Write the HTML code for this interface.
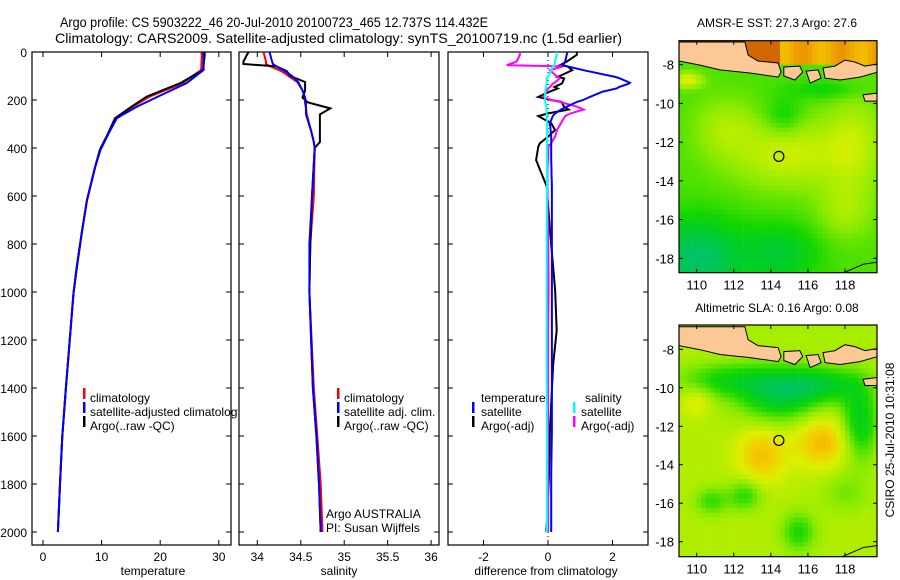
<!DOCTYPE html>
<html><head><meta charset="utf-8">
<style>
html,body{margin:0;padding:0;background:#fff;}
svg{display:block;font-family:"Liberation Sans",sans-serif;}
text{font-size:12px;fill:#000;}
</style></head>
<body>
<svg id="fig" width="900" height="580" viewBox="0 0 900 580" xmlns="http://www.w3.org/2000/svg">
<text x="60" y="27" style="font-size:14px" textLength="428" lengthAdjust="spacingAndGlyphs">Argo profile: CS 5903222_46 20-Jul-2010 20100723_465 12.737S 114.432E</text>
<text x="55" y="43" style="font-size:14px" textLength="567" lengthAdjust="spacingAndGlyphs">Climatology: CARS2009. Satellite-adjusted climatology: synTS_20100719.nc (1.5d earlier)</text>
<text x="777" y="27" text-anchor="middle">AMSR-E SST: 27.3 Argo: 27.6</text>
<text x="777" y="312" text-anchor="middle">Altimetric SLA: 0.16 Argo: 0.08</text>
<text transform="translate(894,440) rotate(-90)" text-anchor="middle">CSIRO 25-Jul-2010 10:31:08</text>
<g id="g"></g>
</svg>
<script>
// ---- data ----
const depthT = [0,12,75,130,186,228,260,276,339,408,478,617,755,894,1005,1400,1600,1800,2000];
const tempArgo = [27.6,27.6,27.3,23.4,17.7,15.1,13.2,12.3,11.1,9.7,8.9,7.5,6.6,5.75,5.2,3.9,3.3,2.9,2.55];
const tempClim = [27.0,27.1,27.0,23.8,18.2,15.3,13.3,12.4,11.2,9.8,8.9,7.5,6.6,5.8,5.2,3.9,3.3,2.9,2.55];
const tempSat = [27.3,27.4,27.4,24.5,19.6,16.0,13.7,12.6,11.2,9.8,8.9,7.5,6.6,5.8,5.2,3.9,3.3,2.9,2.55];
const depthS = [0,12,40,50,60,80,100,125,160,190,210,235,260,330,375,400,600,800,1000,1400,1600,1800,2000];
const salArgo = [33.9,33.88,33.84,33.84,34.22,34.34,34.38,34.55,34.55,34.52,34.58,34.84,34.72,34.72,34.72,34.66,34.63,34.61,34.6,34.64,34.68,34.71,34.73];
const salClim = [34.07,34.08,34.1,34.1,34.15,34.28,34.36,34.46,34.52,34.55,34.56,34.56,34.57,34.62,34.65,34.66,34.65,34.61,34.6,34.65,34.69,34.73,34.75];
const salSat = [34.14,34.15,34.17,34.18,34.22,34.32,34.4,34.47,34.52,34.55,34.55,34.56,34.56,34.62,34.65,34.66,34.63,34.6,34.6,34.64,34.68,34.71,34.73];
const depthD = [0,12,40,55,60,76,104,110,128,132,146,152,165,187,200,208,228,240,256,267,297,325,353,380,394,450,490,506,560,740,990,1160,1300,1575,1760,2000];
const diffTsat = [0.6,0.58,0.53,0.47,0.6,1.1,2.1,2.23,2.54,2.5,2.2,2.13,1.7,1.3,1.09,0.9,0.58,0.4,0.22,0.15,0.06,0.08,0.1,0.1,0.1,0.1,0.11,0.11,0.12,0.12,0.12,0.12,0.12,0.12,0.1,0.1];
const diffTargo = [0.9,0.89,0.58,0.37,0.6,0.75,0.3,0.5,0.45,0.42,0.2,0.3,0.06,-0.3,0.1,0.42,0.5,0.64,0.0,-0.3,0.1,0.22,0.0,-0.25,-0.3,-0.37,-0.25,-0.2,-0.04,0.06,0.22,0.27,0.16,0.06,0.03,-0.05];
const diffSsat = [0.27,0.27,0.22,0.2,0.15,0.1,0.0,-0.04,-0.04,-0.04,-0.06,-0.07,-0.08,-0.09,-0.09,-0.09,-0.05,-0.05,-0.04,-0.04,-0.03,-0.03,-0.03,-0.03,-0.03,-0.03,-0.03,-0.03,-0.03,-0.04,-0.04,-0.04,-0.04,-0.03,-0.03,-0.03];
const diffSargo = [-0.87,-0.87,-0.97,-1.28,0.47,0.06,0.3,0.37,0.2,0.15,0.06,0.0,-0.05,-0.14,0.1,0.37,0.9,1.1,0.7,0.53,0.4,0.28,0.22,0.1,0.01,0.0,-0.02,-0.02,-0.02,0.0,0.02,0.0,0.0,0.0,0.0,0.0];
const depthTicks = [0,200,400,600,800,1000,1200,1400,1600,1800,2000];
const tempTicks = [0,10,20,30];
const salTicks = ['34','34.5','35','35.5','36'];
const diffTicks = [-2,0,2];
const lonTicks = [110,112,114,116,118];
const latTicks = [-8,-10,-12,-14,-16,-18];
const floatLon = 114.432, floatLat = -12.737;
// map field blobs: [lon, lat, amplitude, sigmaLon, sigmaLat]
const sstBlobs = [[115,-12.6,0.2,3.2,1.8],[111.5,-11.2,0.12,1.6,1.5],[118.5,-12,0.15,1.5,2.5],[110,-18,-0.3,2.5,2],[114.5,-17.8,-0.18,2,1.5],[114.7,-10.7,-0.12,1,1],[109.5,-8.8,0.25,0.8,0.4],[118,-15.5,0.12,1.5,1.5],[117,-9.3,-0.1,2,0.5]];
const slaBlobs = [[114.5,-10.3,-0.35,2.2,1.4],[111.5,-9.6,-0.22,2.5,0.9],[117,-9.8,-0.25,2,0.9],[118.8,-11.8,-0.3,1.0,2],[113.5,-13.5,0.22,1.3,1.4],[116.8,-12.8,0.24,1.5,1.3],[110,-10.7,0.12,0.8,0.8],[110.8,-15.9,-0.18,0.9,0.7],[112.6,-15.6,-0.2,0.9,0.8],[115.5,-17.5,-0.22,0.9,1],[118,-15.5,-0.1,1.2,1]];
// ---- helpers ----
const NS='http://www.w3.org/2000/svg';
const G=document.getElementById('g');
function mk(tag,attrs,parent){const e=document.createElementNS(NS,tag);for(const k in attrs)e.setAttribute(k,attrs[k]);(parent||G).appendChild(e);return e;}
const yD=d=>52+d*0.24;
const xT=t=>43+5.86*t;
const xS=s=>257.3+(s-34)*86.9;
const xDf=v=>548+32.25*v;
const TOP=52,BOT=545;
function panel(x0,x1,name){
  const r=mk('rect',{x:x0,y:TOP,width:x1-x0,height:BOT-TOP,fill:'none',stroke:'#000','stroke-width':1.2});
  
  
  depthTicks.forEach(d=>{
    mk('line',{x1:x0,x2:x0+5,y1:yD(d),y2:yD(d),stroke:'#000'});
    mk('line',{x1:x1,x2:x1-5,y1:yD(d),y2:yD(d),stroke:'#000'});
  });
}
function xticks(vals,fx,x0,x1,name){
  vals.forEach(v=>{const x=fx(+v);
    mk('line',{x1:x,x2:x,y1:BOT,y2:BOT-5,stroke:'#000'});
    mk('line',{x1:x,x2:x,y1:TOP,y2:TOP+5,stroke:'#000'});
    const t=mk('text',{x:x,y:BOT+16,'text-anchor':'middle'});t.textContent=v;
    
    
  });
}
function line(xs,ds,fx,color,name,clip){
  const p=mk('polyline',{points:xs.map((v,i)=>fx(v).toFixed(1)+','+yD(ds[i]).toFixed(1)).join(' '),fill:'none',stroke:color,'stroke-width':2,'clip-path':clip});
  
  
}
function clip(id,x0,x1){const c=mk('clipPath',{id:id});mk('rect',{x:x0,y:TOP,width:x1-x0,height:BOT-TOP},c);return 'url(#'+id+')';}
function label(x,y,txt,name,anchor,size){const t=mk('text',{x:x,y:y,'text-anchor':anchor||'start'});if(size)t.style.fontSize=size;t.textContent=txt;
  
  return t;}
function legendBar(x,y,color,name){const r=mk('rect',{x:x,y:y-10,width:2.5,height:11,fill:color});
  
  }
// ---- panel 1: temperature ----
const c1=clip('c1',32,231);
panel(32,231,'temperature-panel');
depthTicks.forEach(d=>label(27,yD(d)+5,d,'depth-tick-label','end'));
xticks(tempTicks,xT,32,231,'temperature');
label(153,575,'temperature','temperature-axis-title','middle');
line(tempClim,depthT,xT,'#f00','temperature-climatology-line',c1);
line(tempArgo,depthT,xT,'#000','temperature-argo-line',c1);
line(tempSat,depthT,xT,'#00f','temperature-satellite-line',c1);
legendBar(83,398,'#f00','legend-climatology-swatch');
legendBar(83,412,'#00f','legend-satellite-swatch');
legendBar(83,426,'#000','legend-argo-swatch');
label(90,402,'climatology','legend-climatology');
const cl=mk('clipPath',{id:'clg'});mk('rect',{x:0,y:0,width:238,height:580},cl);
label(90,416,'satellite-adjusted climatology','legend-satellite-adjusted').setAttribute('clip-path','url(#clg)');
label(90,430,'Argo(..raw -QC)','legend-argo');
// ---- panel 2: salinity ----
const c2=clip('c2',239,439);
panel(239,439,'salinity-panel');
xticks(salTicks,xS,239,439,'salinity');
label(339,575,'salinity','salinity-axis-title','middle');
line(salClim,depthS,xS,'#f00','salinity-climatology-line',c2);
line(salArgo,depthS,xS,'#000','salinity-argo-line',c2);
line(salSat,depthS,xS,'#00f','salinity-satellite-line',c2);
legendBar(337,398,'#f00','legend2-climatology-swatch');
legendBar(337,412,'#00f','legend2-satellite-swatch');
legendBar(337,426,'#000','legend2-argo-swatch');
label(344,402,'climatology','legend2-climatology');
label(344,416,'satellite adj. clim.','legend2-satellite');
label(344,430,'Argo(..raw -QC)','legend2-argo');
label(326,518,'Argo AUSTRALIA','argo-australia-label');
label(326,532,'PI: Susan Wijffels','pi-label');
// ---- panel 3: differences ----
const c3=clip('c3',448,648);
panel(448,648,'difference-panel');
xticks(diffTicks,xDf,448,648,'difference');
mk('line',{x1:xDf(0),x2:xDf(0),y1:TOP,y2:BOT,stroke:'#000','stroke-dasharray':'1,3'});
label(546,575,'difference from climatology','difference-axis-title','middle');
line(diffTargo,depthD,xDf,'#000','temp-argo-diff-line',c3);
line(diffSargo,depthD,xDf,'#f0f','sal-argo-diff-line',c3);
line(diffTsat,depthD,xDf,'#00f','temp-satellite-diff-line',c3);
line(diffSsat,depthD,xDf,'#0ff','sal-satellite-diff-line',c3);
label(481,402,'temperature','legend3-temperature-header');
label(585,402,'salinity','legend3-salinity-header');
legendBar(472,412,'#00f','legend3-temp-satellite-swatch');
legendBar(472,426,'#000','legend3-temp-argo-swatch');
legendBar(573,412,'#0ff','legend3-sal-satellite-swatch');
legendBar(573,426,'#f0f','legend3-sal-argo-swatch');
label(481,416,'satellite','legend3-temp-satellite');
label(481,430,'Argo(-adj)','legend3-temp-argo');
label(581,416,'satellite','legend3-sal-satellite');
label(581,430,'Argo(-adj)','legend3-sal-argo');
// ---- maps ----
const stops=[[0,[0,190,140]],[0.2,[0,205,40]],[0.3,[20,215,0]],[0.45,[140,235,0]],[0.6,[220,240,0]],[0.72,[245,200,0]],[0.85,[235,150,0]],[1,[180,50,0]]];
function cmap(v){v=Math.max(0,Math.min(1,v));for(let i=1;i<stops.length;i++){if(v<=stops[i][0]){const a=stops[i-1],b=stops[i],f=(v-a[0])/(b[0]-a[0]);return 'rgb('+a[1].map((c,k)=>Math.round(c+(b[1][k]-c)*f)).join(',')+')';}}return 'rgb(180,50,0)';}
function field(blobs,base,lon,lat){let v=base;blobs.forEach(b=>{const dx=(lon-b[0])/b[3],dy=(lat-b[1])/b[4];v+=b[2]*Math.exp(-(dx*dx+dy*dy));});return v;}
const java=[[109.0,-6.83],[112.6,-6.83],[112.77,-7.5],[113.3,-7.81],[114.39,-7.91],[114.55,-8.38],[114.4,-8.64],[112.87,-8.43],[111.26,-8.27],[110.18,-8.02],[109.0,-7.8]];
const bali=[[114.7,-8.12],[115.56,-8.07],[115.72,-8.38],[115.29,-8.79],[114.7,-8.58]];
const lombok=[[115.9,-8.33],[116.55,-8.27],[116.71,-8.69],[116.12,-8.95]];
const sumbawa=[[116.81,-8.17],[117.46,-8.07],[118.0,-7.76],[118.53,-7.86],[119.08,-8.07],[119.75,-7.96],[119.75,-8.38],[118.8,-8.64],[117.73,-8.79],[116.92,-8.69]];
const sumba=[[118.97,-9.56],[119.75,-9.46],[119.75,-9.88],[119.08,-9.88]];
const ausCoast=[[117.8,-18.8],[119,-18.3],[119.75,-18.2]];
function drawMap(y0,y1,latY8,latScale,blobs,base,northVal,name){
  const X=lon=>696.7+(lon-110)*18.54, Y=lat=>latY8+(-8-lat)*latScale;
  const g=mk('g',{});
  
  
  const cid=name+'-clip';const c=mk('clipPath',{id:cid},g);mk('rect',{x:679,y:y0,width:198,height:y1-y0},c);
  const gg=mk('g',{'clip-path':'url(#'+cid+')'},g);
  for(let lon=109;lon<119.75;lon+=0.25){for(let lat=-6.5;lat>-18.6;lat-=0.25){
    const cx=lon+0.125,cy=lat-0.125;
    let v=field(blobs,base,cx,cy);
    if((cx>112.6&&cy>-8.0)||cy>-6.9) v=northVal(cx,cy);
    mk('rect',{x:X(lon).toFixed(1),y:Y(lat).toFixed(1),width:4.9,height:(latScale*0.25+0.4).toFixed(1),fill:cmap(v)},gg);
  }}
  [java,bali,lombok,sumbawa,sumba].forEach(poly=>{
    const p=mk('polygon',{points:poly.map(q=>X(q[0]).toFixed(1)+','+Y(q[1]).toFixed(1)).join(' '),fill:'#fcc896',stroke:'#000','stroke-width':1},gg);
    
    
  });
  mk('polyline',{points:ausCoast.map(q=>X(q[0])+','+Y(q[1])).join(' '),fill:'none',stroke:'#000'},gg);
  const m=mk('circle',{cx:X(floatLon),cy:Y(floatLat),r:5,fill:'none',stroke:'#000','stroke-width':1.2},g);
  
  
  mk('rect',{x:679,y:y0,width:198,height:y1-y0,fill:'none',stroke:'#000','stroke-width':1.2},g);
  lonTicks.forEach(l=>{const x=X(l);mk('line',{x1:x,x2:x,y1:y1,y2:y1-4,stroke:'#000'},g);mk('line',{x1:x,x2:x,y1:y0,y2:y0+4,stroke:'#000'},g);
    const t=mk('text',{x:x,y:y1+17,'text-anchor':'middle'},g);t.textContent=l;t.style.fontSize='13px';});
  latTicks.forEach(l=>{const y=Y(l);mk('line',{x1:679,x2:683,y1:y,y2:y,stroke:'#000'},g);mk('line',{x1:877,x2:873,y1:y,y2:y,stroke:'#000'},g);
    const t=mk('text',{x:674,y:y+5,'text-anchor':'end'},g);t.textContent=l;t.style.fontSize='13px';});
}
drawMap(40.7,272.7,64.7,19.36,sstBlobs,0.37,(lon,lat)=>(lat>-6.9&&lon<112.6?0.97:(lon<114.5&&lat>-7.9?0.92:0.8+0.05*Math.sin(lon*3))),'sst-map');
drawMap(325,556.7,349.3,19.24,slaBlobs,0.52,(lon,lat)=>0.5,'sla-map');
</script>
</body></html>
